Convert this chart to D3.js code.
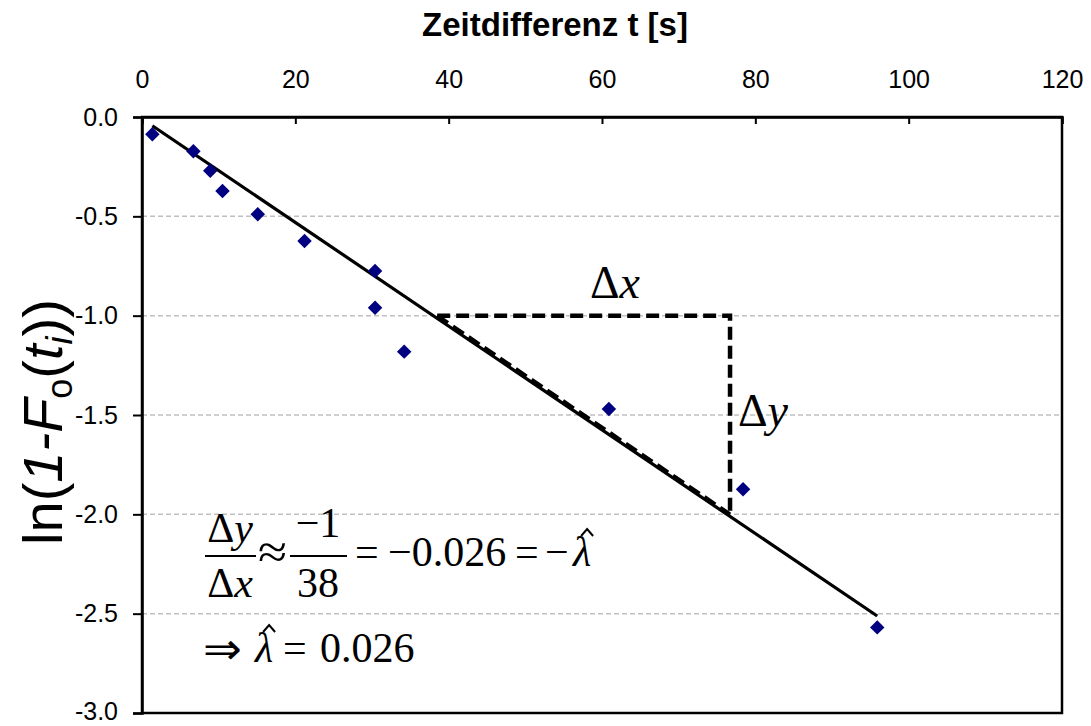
<!DOCTYPE html>
<html><head><meta charset="utf-8">
<script src="https://cdn.jsdelivr.net/npm/d3@7"></script>
<style>body{margin:0;background:#fff} svg{display:block}</style>
</head><body>
<svg id="c" width="1091" height="726"></svg>
<script>
// ---- data ----
const tValues  = [1.35, 6.7, 8.9, 10.5, 15.1, 21.2, 30.4, 30.4, 34.2, 60.9, 78.4, 95.9];
const lnValues = [-0.087, -0.173, -0.270, -0.372, -0.490, -0.624, -0.775, -0.960, -1.181, -1.470, -1.874, -2.569];
const xTicks = [0, 20, 40, 60, 80, 100, 120];
const yTicks = [0, -0.5, -1, -1.5, -2, -2.5, -3];
const fitIntercept = -0.0087;
const fitSlope = -0.0261;
const triangleX = [38.5, 76.7];
const triangleY = [-1, -2];

// ---- layout ----
const L = 142, R = 1062, T = 117, B = 713;
const svg = d3.select("#c");
const x = d3.scaleLinear().domain([0, 120]).range([L, R]);
const y = d3.scaleLinear().domain([-3, 0]).range([B, T]);
const sans = "Liberation Sans, Arial, sans-serif";
const serif = "Liberation Serif, Times New Roman, serif";

// gridlines
svg.append("g").selectAll("line").data(yTicks.filter(v => v !== 0 && v !== -3)).join("line")
  .attr("x1", L).attr("x2", R).attr("y1", d => y(d)).attr("y2", d => y(d))
  .attr("stroke", "#c0c0c0").attr("stroke-width", 1.5).attr("stroke-dasharray", "5,3");

// frame
svg.append("rect").attr("x", L).attr("y", T).attr("width", R - L).attr("height", B - T)
  .attr("fill", "none").attr("stroke", "#000").attr("stroke-width", 2.5);

// top axis
const gx = svg.append("g").attr("transform", `translate(0,${T})`)
  .call(d3.axisTop(x).tickValues(xTicks).tickSize(-7).tickPadding(29).tickFormat(d3.format("d")));
gx.select(".domain").attr("stroke-width", 2.5);
gx.selectAll(".tick line").attr("stroke-width", 2);
gx.selectAll("text").attr("font-family", sans).attr("font-size", 25).attr("fill", "#000");

// left axis
const gy = svg.append("g").attr("transform", `translate(${L},0)`)
  .call(d3.axisLeft(y).tickValues(yTicks).tickSize(9).tickPadding(15).tickFormat(d => d.toFixed(1)));
gy.select(".domain").attr("stroke-width", 2.5);
gy.selectAll(".tick line").attr("stroke-width", 2);
gy.selectAll("text").attr("font-family", sans).attr("font-size", 25).attr("fill", "#000");
gy.selectAll(".tick").filter(d => d === -3).select("text").attr("dy", "0.25em");

// x title
svg.append("text").attr("x", 555).attr("y", 36).attr("text-anchor", "middle")
  .attr("font-family", sans).attr("font-size", 33).attr("font-weight", "bold")
  .text("Zeitdifferenz t [s]");

// y title
const yt = svg.append("text").attr("transform", "translate(62,422) rotate(-90)")
  .attr("text-anchor", "middle").attr("font-family", sans).attr("font-size", 56);
yt.append("tspan").text("ln(");
yt.append("tspan").attr("font-style", "italic").text("1-F");
yt.append("tspan").attr("font-size", 36).attr("dy", 10).text("o");
yt.append("tspan").attr("dy", -10).text("(");
yt.append("tspan").attr("font-style", "italic").text("t");
yt.append("tspan").attr("font-style", "italic").attr("font-size", 36).attr("dy", 10).text("i");
yt.append("tspan").attr("dy", -10).text("))");

// fit line
const xmin = d3.min(tValues), xmax = d3.max(tValues);
svg.append("line")
  .attr("x1", x(xmin)).attr("y1", y(fitIntercept + fitSlope * xmin))
  .attr("x2", x(xmax)).attr("y2", y(fitIntercept + fitSlope * xmax))
  .attr("stroke", "#000").attr("stroke-width", 3.2);

// slope triangle
svg.append("path")
  .attr("d", `M${x(triangleX[0])},${y(triangleY[0])}L${x(triangleX[1])},${y(triangleY[0])}L${x(triangleX[1])},${y(triangleY[1])}`)
  .attr("fill", "none").attr("stroke", "#000").attr("stroke-width", 4.5)
  .attr("stroke-dasharray", "13,6");
svg.append("line")
  .attr("x1", x(triangleX[0])).attr("y1", y(triangleY[0]))
  .attr("x2", x(triangleX[1])).attr("y2", y(triangleY[1]))
  .attr("stroke", "#000").attr("stroke-width", 4).attr("stroke-dasharray", "13,6");

// markers
svg.append("g").selectAll("path").data(tValues.map((t, i) => [t, lnValues[i]])).join("path")
  .attr("d", d3.symbol(d3.symbolSquare, 105))
  .attr("transform", d => `translate(${x(d[0])},${y(d[1])}) rotate(45)`)
  .attr("fill", "#000080");

// delta labels
function delta(xp, yp, v) {
  const t = svg.append("text").attr("x", xp).attr("y", yp).attr("font-family", serif).attr("font-size", 46);
  t.append("tspan").text("Δ");
  t.append("tspan").attr("font-style", "italic").text(v);
}
delta(590, 298, "x");
delta(738, 426, "y");

// formula
const fs = 42;
function txt(xp, yp, parts, anchor, size) {
  const t = svg.append("text").attr("x", xp).attr("y", yp).attr("font-family", serif)
    .attr("font-size", size || fs).attr("text-anchor", anchor || "start");
  parts.forEach(p => t.append("tspan").attr("font-style", p[1] ? "italic" : "normal").text(p[0]));
  return t;
}
function hat(cx, topY) {
  svg.append("path").attr("d", `M${cx - 6},${topY + 7}L${cx},${topY}L${cx + 6},${topY + 7}`)
    .attr("fill", "none").attr("stroke", "#000").attr("stroke-width", 2);
}
const fbarY = 556;
txt(230, 542, [["Δ"], ["y", 1]], "middle");
txt(230, 597, [["Δ"], ["x", 1]], "middle");
svg.append("line").attr("x1", 205).attr("x2", 256).attr("y1", fbarY).attr("y2", fbarY).attr("stroke", "#000").attr("stroke-width", 2);
txt(258, 568, [["≈"]], "start", 48).attr("textLength", 29).attr("lengthAdjust", "spacingAndGlyphs");
txt(318, 537, [["−1"]], "middle");
txt(318, 597, [["38"]], "middle");
svg.append("line").attr("x1", 290).attr("x2", 347).attr("y1", fbarY).attr("y2", fbarY).attr("stroke", "#000").attr("stroke-width", 2);
txt(355, 566, [["="]]);
txt(388, 566, [["−0.026"]]);
txt(515, 566, [["="]]);
txt(545, 566, [["−"]]);
const lam1 = txt(573, 566, [["λ", 1]]);
const lw = lam1.node().getComputedTextLength();
hat(573 + lw / 2 + 5, 529);

txt(203, 664, [["⇒"]], "start", 44).attr("textLength", 39).attr("lengthAdjust", "spacingAndGlyphs");
const lam2 = txt(255, 662, [["λ", 1]]);
const lw2 = lam2.node().getComputedTextLength();
hat(255 + lw2 / 2 + 5, 625);
txt(283, 662, [["="]]);
txt(320, 662, [["0.026"]]);
</script>
</body></html>
